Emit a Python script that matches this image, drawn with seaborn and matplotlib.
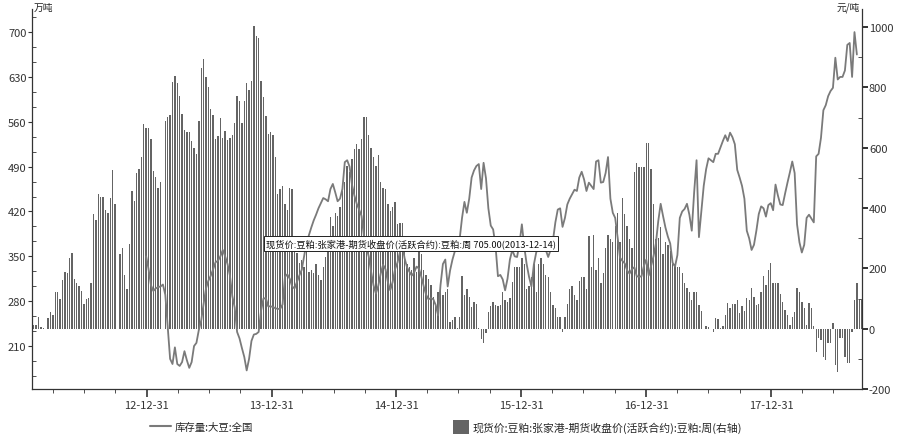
import matplotlib
matplotlib.use("Agg")
import matplotlib.pyplot as plt
import matplotlib.dates as mdates
from matplotlib.ticker import MultipleLocator, FixedLocator
from matplotlib.patches import Patch
from matplotlib.lines import Line2D
import numpy as np
import pandas as pd
import seaborn as sns

# 周度数据 (周六)
bar_start = "2012-02-04"
bar_values = [
    13, 13, 40, 7, 3, 0, 37, 56, 46, 120, 123, 100, 163, 189, 183, 233, 252, 166, 153, 140,
    126, 83, 100, 103, 150, 379, 359, 445, 438, 438, 392, 382, 432, 525, 415, None, 246, 269, 179, 130,
    282, 458, 422, 515, 528, 568, 678, 664, 664, 628, 522, 502, 468, 485, None, 688, 701,
    708, 817, 837, 814, 771, 711, 658, 651, 651, 621, 598, 578, 688, 864, 894, 834, 801, 728, 708, 628,
    638, 698, 631, 654, 624, 631, 641, 681, 771, 754, 681, 754, 814, 791, 820, 1003, 970, 964, 820, 768,
    705, 645, 651, 641, 568, 445, 462, 472, 415, 395, 465, 462, 300, 252, 219, 229, 203, 266,
    189, 193, 186, 213, 179, 163, 206, 239, 296, 369, 339, 385, 375, 405, 455, 485, 538, 518, 561, 595,
    611, 595, 628, 701, 701, 641, 598, 568, 538, 575, 488, 468, 462, 415, 389, 402, 419, 346, 352, 352,
    262, 213, 203, 196, 236, 189, 296, 246, 196, 179, 166, 146, 106, 86, 120, 130, 113, 123,
    130, 23, 30, 40, 3, 40, 176, 113, 133, 106, 73, 90, 83, 3, -33, -46, -13, 56, 76, 90,
    80, 76, 80, 123, 96, 90, 103, 156, 206, 203, 203, 236, 216, 133, 140, 173, 213, 123, 213, 233,
    213, 179, 173, 120, 80, 70, 40, 40, -10, 40, 83, 130, 143, 113, 96, 159, 173, 173,
    130, 306, 206, 309, 196, 236, 153, 186, 266, 309, 299, 286, 339, 385, 289, 432, 379, 339, 296, 269,
    518, 551, 535, 535, 535, 615, 615, 528, 412, 296, 302, 336, 249, 289, 276, 256, 213, 213, 203, 206,
    186, 153, 136, 120, 96, 120, 120, 80, 60, 0, 10, 7, 0, -10, 37, 33, 3, 10,
    46, 86, 70, 83, 83, 96, 53, 76, 60, 103, 96, 136, 106, 80, 83, 123, 176, 146, 196, 219,
    150, 150, 153, 116, 90, 63, 46, 13, 40, 56, 136, 123, 90, 70, 13, 86, 70, 10, -76, -30,
    -36, -93, -103, -46, -46, 20, -120, -143, -30, -30, -93, -113, -113, -10, 96, 153, 96, 100, 100,
]

line_start = "2012-12-29"
line_values = [
    350, 330, 305, 296, 300, 302, 303, 306, 290, 240, 190, 182, 208, 182, 179, 185, 202, 188, 176, 185,
    210, 215, 235, 250, 276, 300, 312, 320, 330, 341, 343, 350, 360, 350, 338, 320, 288, 270, 232, 222,
    207, 193, 172, 190, 218, 228, 229, 232, 265, 284, 285, 272, 272, 271, 269, 268, 268, 275, 318, 322,
    315, 303, 300, 310, 320, 329, 350, 372, 383, 395, 406, 415, 425, 433, 441, 439, 436, 455, 463, 450,
    436, 440, 455, 497, 500, 490, 462, 445, 432, 423, 413, 381, 365, 350, 326, 305, 292, 304, 323, 337,
    330, 310, 297, 310, 330, 340, 356, 368, 347, 333, 326, 320, 325, 334, 331, 318, 303, 290, 283, 285,
    283, 274, 258, 305, 338, 345, 303, 328, 345, 358, 368, 377, 410, 435, 418, 440, 473, 484, 491, 494,
    455, 496, 472, 425, 398, 392, 366, 319, 321, 314, 297, 315, 345, 360, 350, 349, 370, 400, 365, 338,
    318, 303, 337, 356, 366, 372, 371, 360, 349, 360, 375, 403, 423, 425, 396, 410, 431, 440, 447, 454,
    452, 473, 482, 470, 452, 465, 460, 455, 498, 500, 465, 466, 480, 505, 440, 418, 410, 380, 348, 343,
    339, 328, 323, 330, 333, 319, 318, 319, 335, 345, 320, 335, 350, 370, 405, 432, 413, 395, 381, 370,
    340, 334, 352, 410, 420, 424, 432, 415, 390, 450, 500, 380, 420, 460, 486, 503, 500, 497, 510, 510,
    520, 530, 539, 530, 543, 536, 525, 485, 473, 460, 440, 390, 378, 360, 368, 390, 416, 428, 425, 412,
    430, 433, 422, 462, 445, 431, 430, 448, 465, 481, 498, 480, 400, 372, 356, 368, 410, 415, 409, 403,
    506, 510, 535, 578, 586, 600, 608, 613, 660, 626, 630, 630, 640, 680, 683, 630, 700, 665,
]

line_label = "库存量:大豆:全国"
bar_label = "现货价:豆粕:张家港-期货收盘价(活跃合约):豆粕:周(右轴)"
tip_date = "2013-12-14"
left_unit = "万吨"
right_unit = "元/吨"
year_ticks = ["2012-12-31", "2013-12-31", "2014-12-31", "2015-12-31", "2016-12-31", "2017-12-31"]

sns.set_style("ticks")
plt.rcParams['font.family'] = ['Noto Sans CJK SC', 'DejaVu Sans']
plt.rcParams['axes.unicode_minus'] = False

df_bar = pd.DataFrame({
    'date': pd.date_range(bar_start, periods=len(bar_values), freq='W-SAT'),
    'value': pd.Series(bar_values, dtype='float'),
})
df_line = pd.DataFrame({
    'date': pd.date_range(line_start, periods=len(line_values), freq='W-SAT'),
    'value': line_values,
})

fig = plt.figure(figsize=(9, 4.39), dpi=100)
ax = fig.add_axes([32 / 900, 49 / 439, 830 / 900, 380 / 439])
ax2 = ax.twinx()
ax.set_zorder(ax2.get_zorder() + 1)
ax.patch.set_visible(False)

bar_color = '#646464'
line_color = '#7a7a7a'
axis_color = '#333333'

ax2.bar(df_bar['date'], df_bar['value'], width=4, color=bar_color, linewidth=0)
sns.lineplot(data=df_line, x='date', y='value', ax=ax, color=line_color, lw=1.3)

ax.set_xlim(pd.Timestamp("2012-01-30"), pd.Timestamp("2018-09-23"))
ax.set_ylim(143, 736)
ax2.set_ylim(-200, 1060)

ax.set_yticks(range(210, 701, 70))
ax.yaxis.set_minor_locator(MultipleLocator(70 / 3))
ax2.set_yticks(range(-200, 1001, 200))
ax2.yaxis.set_minor_locator(MultipleLocator(100))

ax.xaxis.set_major_locator(FixedLocator(mdates.date2num(pd.to_datetime(year_ticks))))
quarters = pd.date_range("2012-03-31", "2018-09-30", freq="QE")
ax.xaxis.set_minor_locator(FixedLocator(mdates.date2num(quarters)))
ax.xaxis.set_major_formatter(mdates.DateFormatter('%y-%m-%d'))

ax.set_xlabel('')
ax.set_ylabel('')
ax2.set_ylabel('')

ax.tick_params(axis='y', which='major', direction='out', length=3, width=0.8, colors=axis_color, labelsize=8, pad=1)
ax.tick_params(axis='y', which='minor', direction='in', length=3, width=0.6, colors=axis_color)
ax.tick_params(axis='x', which='major', direction='out', length=6, width=1.2, colors=axis_color, labelsize=8, pad=2)
ax.tick_params(axis='x', which='minor', direction='out', length=3, width=0.6, colors=axis_color)
ax2.tick_params(axis='y', which='major', direction='out', length=4, width=1.4, colors=axis_color, labelsize=8, pad=1)
ax2.tick_params(axis='y', which='minor', direction='in', length=3, width=0.6, colors=axis_color)

for a in (ax, ax2):
    a.spines['top'].set_visible(False)
    for s in ('left', 'right', 'bottom'):
        a.spines[s].set_color(axis_color)
        a.spines[s].set_linewidth(0.9)
ax.spines['right'].set_visible(False)
ax2.spines['left'].set_visible(False)
ax2.spines['bottom'].set_visible(False)

# 提示框
tip_value = df_bar.loc[df_bar['date'] == pd.Timestamp(tip_date), 'value'].iloc[0]
tip_text = f"{bar_label.replace('(右轴)', '')} {tip_value:.2f}({tip_date})"
ax.text(pd.Timestamp(tip_date), 370, tip_text, fontsize=6.65, ha='left', va='center', color='#111111',
        bbox=dict(boxstyle='square,pad=0.25', fc='white', ec='#222222', lw=0.7), zorder=10)

fig.text(34 / 900, 1 - 8 / 439, left_unit, fontsize=7, ha='left', va='center', color='#222222')
fig.text(860 / 900, 1 - 8 / 439, right_unit, fontsize=7, ha='right', va='center', color='#222222')

h1 = Line2D([0], [0], color=line_color, lw=1.5)
h2 = Patch(facecolor=bar_color, edgecolor='none')
fig.legend([h1], [line_label], loc='center left', bbox_to_anchor=(141 / 900, 1 - 428 / 439),
           frameon=False, fontsize=7.5, handlelength=2.0, handletextpad=0.3)
fig.legend([h2], [bar_label], loc='center left', bbox_to_anchor=(443 / 900, 1 - 428 / 439),
           frameon=False, fontsize=7.8, handlelength=1.5, handleheight=1.6, handletextpad=0.3)

fig.savefig('out.png', dpi=100)
